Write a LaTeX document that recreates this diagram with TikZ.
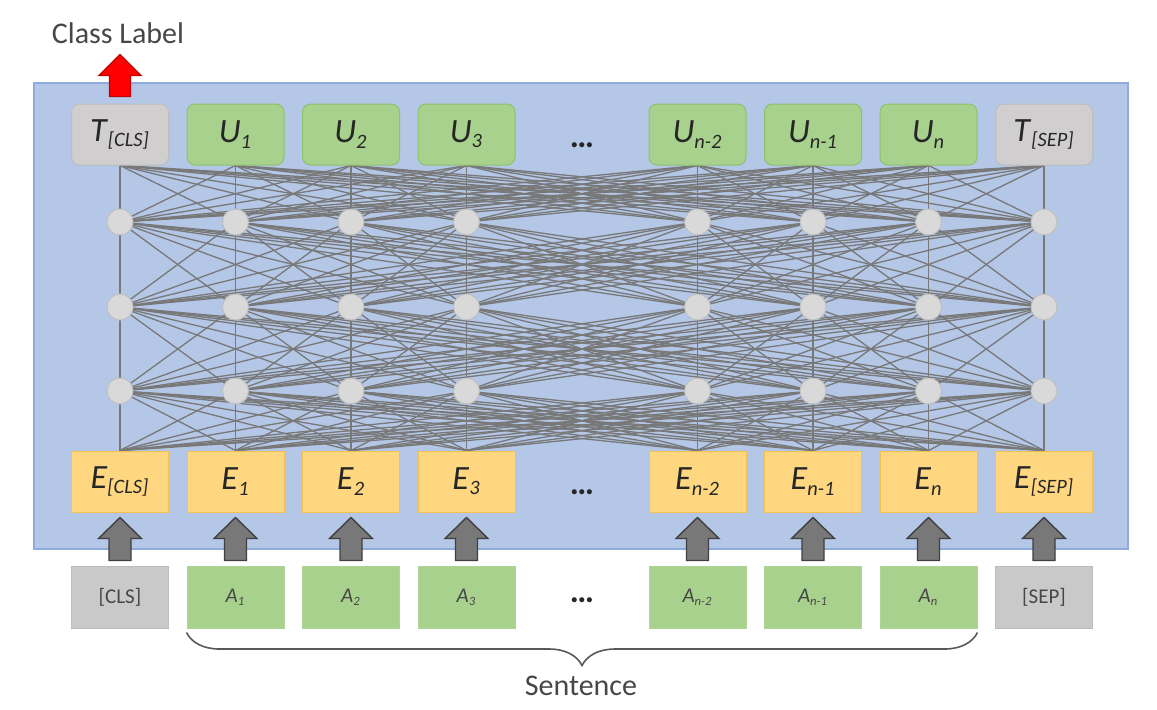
\documentclass[tikz,border=0pt]{standalone}
\usepackage{fontspec}
\setmainfont{Carlito}
\usetikzlibrary{decorations.pathreplacing}
\makeatletter
\def\defaultscriptratio{.6}
\makeatother

\definecolor{panelblue}{HTML}{B4C7E7}
\definecolor{panelline}{HTML}{8FAADC}
\definecolor{tokgreen}{HTML}{A9D18E}
\definecolor{tokgreenline}{HTML}{8CC26C}
\definecolor{tokgray}{HTML}{D0CECE}
\definecolor{tokgrayline}{HTML}{BDBDBD}
\definecolor{ingrayfill}{HTML}{C9C9C9}
\definecolor{embfill}{HTML}{FFD780}
\definecolor{embline}{HTML}{F2C14E}
\definecolor{unitfill}{HTML}{D9D9D9}
\definecolor{unitline}{HTML}{C0C0C0}
\definecolor{wire}{HTML}{787878}
\definecolor{txt}{HTML}{262626}

\newcommand{\tok}[2]{\textit{#1}\textsubscript{\textit{#2}}}

\pgfdeclarelayer{wiring}
\pgfsetlayers{wiring,main}

\tikzset{
  outbox/.style={draw, rounded corners=4pt, minimum width=48.5pt, minimum height=30.5pt, inner sep=0pt, line width=0.5pt, text=txt, font=\fontsize{17}{19}\selectfont},
  outgray/.style={outbox, fill=tokgray, draw=tokgrayline},
  outgreen/.style={outbox, fill=tokgreen, draw=tokgreenline},
  embbox/.style={draw=embline, fill=embfill, minimum width=48.5pt, minimum height=30.5pt, inner sep=0pt, line width=0.5pt, text=txt, font=\fontsize{17}{19}\selectfont},
  inbox/.style={minimum width=48.5pt, minimum height=31pt, inner sep=0pt, line width=0.5pt, text=txt!85, font=\fontsize{10.5}{12}\selectfont},
  ingray/.style={inbox, fill=ingrayfill, draw=tokgrayline},
  ingreen/.style={inbox, fill=tokgreen, draw=tokgreenline!70},
  unit/.style={circle, fill=unitfill, draw=unitline, minimum size=13pt, inner sep=0pt, line width=0.5pt},
  wires/.style={draw=wire, line width=0.65pt},
  gatearrow/.style={fill=wire, draw=black!75, line width=0.7pt, line join=miter},
  outarrow/.style={fill=red, draw=red!75!black, line width=0.7pt, line join=miter},
  dots/.style={font=\fontsize{17}{19}\selectfont\bfseries, text=txt, inner sep=0pt}
}

\begin{document}
\begin{tikzpicture}[x=0.5pt,y=-0.5pt]
  \useasboundingbox (0,0) rectangle (1157,709);

  % output tokens
  \foreach \c/\lab/\sty in {0/{\tok{T}{[CLS]}}/outgray, 1/{\tok{U}{1}}/outgreen, 2/{\tok{U}{2}}/outgreen, 3/{\tok{U}{3}}/outgreen,
      5/{\tok{U}{n-2}}/outgreen, 6/{\tok{U}{n-1}}/outgreen, 7/{\tok{U}{n}}/outgreen, 8/{\tok{T}{[SEP]}}/outgray}
    \node[\sty] (t\c) at (120+115.5*\c,134.5) {\lab};

  % hidden units
  \foreach \c in {0,1,2,3,5,6,7,8}{
    \node[unit] (ha\c) at (120+115.5*\c,222) {};
    \node[unit] (hb\c) at (120+115.5*\c,307) {};
    \node[unit] (hc\c) at (120+115.5*\c,391) {};
  }

  % embeddings
  \foreach \c/\lab in {0/{\tok{E}{[CLS]}}, 1/{\tok{E}{1}}, 2/{\tok{E}{2}}, 3/{\tok{E}{3}},
      5/{\tok{E}{n-2}}, 6/{\tok{E}{n-1}}, 7/{\tok{E}{n}}, 8/{\tok{E}{[SEP]}}}
    \node[embbox] (e\c) at (120+115.5*\c,481.5) {\lab};

  % inputs
  \foreach \c/\lab/\sty in {0/{[CLS]}/ingray, 1/{\tok{A}{1}}/ingreen, 2/{\tok{A}{2}}/ingreen, 3/{\tok{A}{3}}/ingreen,
      5/{\tok{A}{n-2}}/ingreen, 6/{\tok{A}{n-1}}/ingreen, 7/{\tok{A}{n}}/ingreen, 8/{[SEP]}/ingray}
    \node[\sty] (in\c) at (120+115.5*\c,597) {\lab};

  \node[dots] (dtop) at (582,145) {\dots};
  \node[dots] (demb) at (582,492) {\dots};
  \node[dots] (din) at (582,600) {\dots};

  \begin{pgfonlayer}{wiring}
    % encoder panel
    \draw[fill=panelblue, draw=panelline, line width=0.6pt] (34,83) rectangle (1128,549);
    % full connections between layers
    \foreach \a in {0,1,2,3,5,6,7,8}{
      \foreach \b in {0,1,2,3,5,6,7,8}{
        \draw[wires] (t\a.south) -- (ha\b.center);
        \draw[wires] (ha\a.center) -- (hb\b.center);
        \draw[wires] (hb\a.center) -- (hc\b.center);
        \draw[wires] (hc\a.center) -- (e\b.north);
      }
    }
  \end{pgfonlayer}

  % input arrows
  \foreach \c in {0,1,2,3,5,6,7,8}
    \draw[gatearrow] ([yshift=2.5pt]in\c.north) ++(-11,0) -- ++(0,-22) -- ++(-10.5,0) -- ++(21.5,-21)
      -- ++(21.5,21) -- ++(-10.5,0) -- ++(0,22) -- cycle;

  % class output
  \node[text=txt!85, font=\fontsize{15}{17}\selectfont] (cls) at (118,33) {Class Label};
  \draw[outarrow] ([yshift=3.5pt]t0.north) ++(-10.5,0) -- ++(0,-21) -- ++(-10.5,0) -- ++(21,-21)
    -- ++(21,21) -- ++(-10.5,0) -- ++(0,21) -- cycle;

  % sentence brace
  \draw[decorate, decoration={brace, mirror, amplitude=16.5pt}, draw=black!65, line width=0.8pt]
    ([yshift=-2pt]in1.south west) -- ([yshift=-2pt]in7.south east);
  \node[text=txt!85, font=\fontsize{15}{17}\selectfont] (snt) at (581,686) {Sentence};
\end{tikzpicture}
\end{document}
